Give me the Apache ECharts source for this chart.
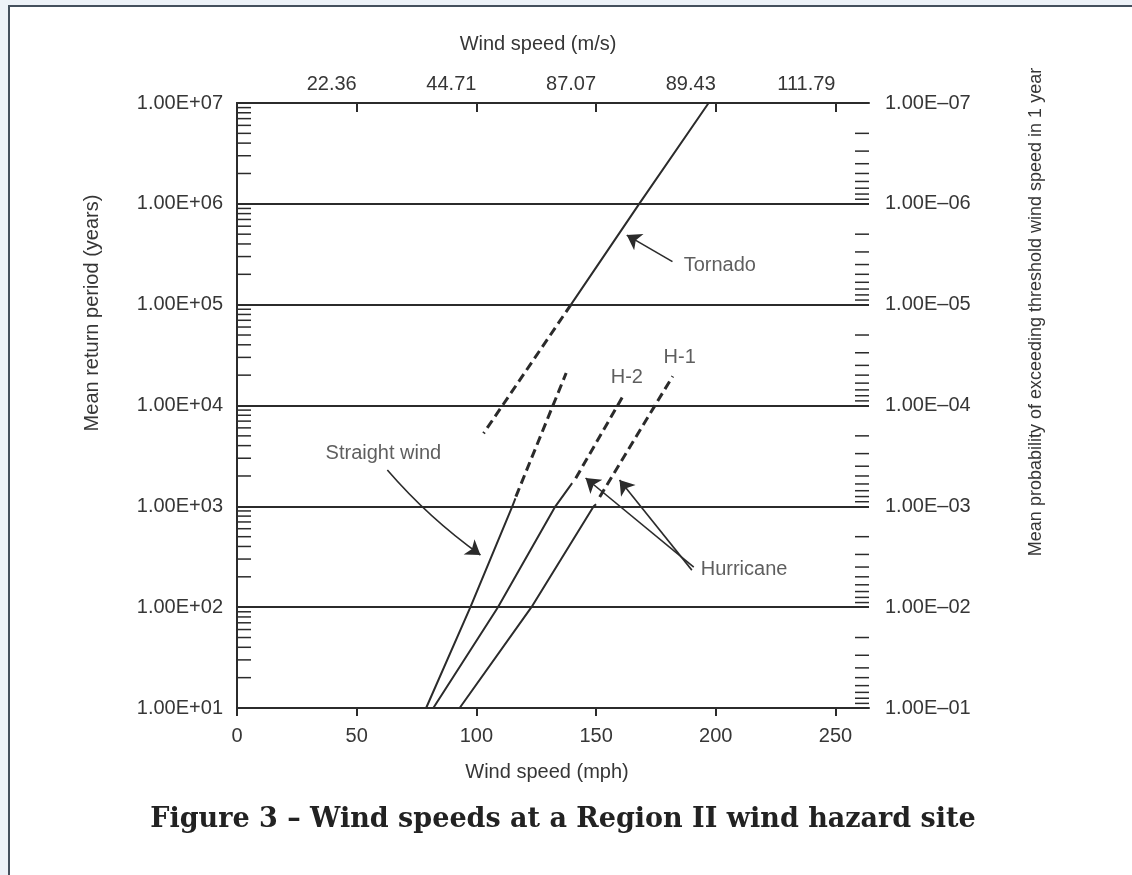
<!DOCTYPE html>
<html>
<head>
<meta charset="utf-8">
<title>Wind speeds at a Region II wind hazard site</title>
<script src="https://cdn.jsdelivr.net/npm/echarts@6/dist/echarts.min.js"></script>
<style>
  html, body { margin: 0; padding: 0; width: 1132px; height: 875px; overflow: hidden; background: #edf2f8; }
  #sheet { position: absolute; left: 8px; top: 5px; right: 0; bottom: 0; background: #ffffff;
           border-left: 2px solid #44505d; border-top: 2px solid #44505d; }
  #chart { position: absolute; left: 0; top: 0; width: 1132px; height: 875px; }
</style>
</head>
<body>
<div id="sheet"></div>
<div id="chart"></div>
<script>
// Hazard curves: mean return period (years) against wind speed (mph)
const tornadoSolid   = [[197, 1e7], [168, 1e6], [139.5, 1e5]];
const tornadoDashed  = [[139.5, 1e5], [103, 5300]];
const straightSolid  = [[79, 10], [97.5, 100], [115, 1000], [116.3, 1200]];
const straightDashed = [[116.5, 1250], [137.5, 21000]];
const h2Solid        = [[82, 10], [109, 100], [133, 1000], [140, 1700]];
const h2Dashed       = [[141.5, 1900], [161.5, 12700]];
const h1Solid        = [[93, 10], [123, 100], [149, 1000], [150, 1050]];
const h1Dashed       = [[151.5, 1240], [182, 19500]];

// Tick labels
const mphLabels  = ['0', '50', '100', '150', '200', '250'];
const msLabels   = ['22.36', '44.71', '87.07', '89.43', '111.79'];
const periodLabels = ['1.00E+01', '1.00E+02', '1.00E+03', '1.00E+04', '1.00E+05', '1.00E+06', '1.00E+07'];
const probLabels   = ['1.00E\u201301', '1.00E\u201302', '1.00E\u201303', '1.00E\u201304', '1.00E\u201305', '1.00E\u201306', '1.00E\u201307'];

// Minor log ticks: return period on the left, probability (1/period) on the right
const decades = [10, 100, 1000, 1e4, 1e5, 1e6];
const tickMultipliers = [2, 3, 4, 5, 6, 7, 8, 9];

// Annotation text anchors (left edge of each label) and arrows [tail, head]
const noteNames  = ['Tornado', 'Straight wind', 'H-2', 'H-1', 'Hurricane'];
const notePoints = [[186.6, 2.47e5], [37, 3380], [156.1, 18750], [178.2, 29600], [193.7, 234]];
const tornadoArrow   = [[181.9, 2.67e5], [162.8, 4.9e5]];
const straightArrow  = [[62.8, 2290], [101.7, 329]];
const hurricaneArrowA = [[190.8, 250], [145.6, 1910]];
const hurricaneArrowB = [[190, 233], [159.8, 1825]];

const MPH_MAX = 264;
const MS_PER_MPH = 0.44704;
const MS_STEP = 50 * MS_PER_MPH;

const INK = '#2b2b2b';
const TEXT = '#363636';
const FONT = 'Liberation Sans';

const leftMinor  = decades.flatMap(d => tickMultipliers.map(m => m * d));
const rightMinor = decades.flatMap(d => tickMultipliers.map(m => d * 10 / m));

function decadeIndex(v) { return Math.round(Math.log10(v)) - 1; }

function tickSeries(values, atRight) {
  return {
    type: 'custom', coordinateSystem: 'cartesian2d', xAxisIndex: 0, yAxisIndex: 0,
    silent: true, clip: false, z: 3,
    data: values.map(v => [atRight ? MPH_MAX : 0, v]),
    encode: { x: 0, y: 1 },
    renderItem: (params, api) => {
      const p = api.coord([api.value(0), api.value(1)]);
      const dx = atRight ? -14 : 14;
      return { type: 'line', shape: { x1: p[0], y1: p[1], x2: p[0] + dx, y2: p[1] },
               style: { stroke: INK, lineWidth: 1.5 } };
    }
  };
}

function curve(data, dashed) {
  return {
    type: 'line', data: data, xAxisIndex: 0, yAxisIndex: 0,
    showSymbol: false, symbol: 'none', silent: true, z: 4,
    lineStyle: dashed ? { color: INK, width: 3, type: [9, 5] } : { color: INK, width: 2 }
  };
}

const axisText = { fontFamily: FONT, fontSize: 20, color: TEXT };

const chart = echarts.init(document.getElementById('chart'), null, { renderer: 'canvas' });

chart.setOption({
  animation: false,
  backgroundColor: 'transparent',
  grid: { left: 237, top: 103, width: 632, height: 605, containLabel: false, outerBoundsMode: 'none' },
  xAxis: [
    {
      type: 'value', position: 'bottom', min: 0, max: MPH_MAX, interval: 50,
      axisLine: { show: true, lineStyle: { color: INK, width: 2 } },
      axisTick: { show: true, inside: false, length: 8, lineStyle: { color: INK, width: 2 } },
      axisLabel: Object.assign({ margin: 18, showMaxLabel: false,
        formatter: v => (v % 50 === 0 ? mphLabels[v / 50] : '') }, axisText),
      splitLine: { show: false }
    },
    {
      type: 'value', position: 'top', min: 0, max: MPH_MAX * MS_PER_MPH, interval: MS_STEP,
      axisLine: { show: true, lineStyle: { color: INK, width: 2 } },
      axisTick: { show: true, inside: true, length: 9, lineStyle: { color: INK, width: 2 } },
      axisLabel: Object.assign({ margin: 9, align: 'right', showMinLabel: false, showMaxLabel: false,
        formatter: v => {
          const k = Math.round(v / MS_STEP);
          return (k >= 1 && Math.abs(v - k * MS_STEP) < 1e-6) ? msLabels[k - 1] : '';
        } }, axisText),
      splitLine: { show: false }
    }
  ],
  yAxis: [
    {
      type: 'log', logBase: 10, min: 10, max: 1e7, position: 'left',
      axisLine: { show: true, lineStyle: { color: INK, width: 2 } },
      axisTick: { show: false },
      axisLabel: Object.assign({ margin: 14, formatter: v => periodLabels[decadeIndex(v)] }, axisText),
      splitLine: { show: true, lineStyle: { color: INK, width: 2 } }
    },
    {
      type: 'log', logBase: 10, min: 10, max: 1e7, position: 'right',
      axisLine: { show: true, lineStyle: { color: INK, width: 2 } },
      axisTick: { show: false },
      axisLabel: Object.assign({ margin: 16, formatter: v => probLabels[decadeIndex(v)] }, axisText),
      splitLine: { show: false }
    }
  ],
  series: [
    tickSeries(leftMinor, false),
    tickSeries(rightMinor, true),
    curve(tornadoSolid, false),
    curve(tornadoDashed, true),
    curve(straightSolid, false),
    curve(straightDashed, true),
    curve(h2Solid, false),
    curve(h2Dashed, true),
    curve(h1Solid, false),
    curve(h1Dashed, true),
    {
      type: 'lines', coordinateSystem: 'cartesian2d', xAxisIndex: 0, yAxisIndex: 0,
      silent: true, z: 5,
      symbol: ['none', 'arrow'], symbolSize: [9, 14],
      lineStyle: { color: INK, width: 1.6, opacity: 1 },
      data: [
        { coords: tornadoArrow },
        { coords: straightArrow, lineStyle: { curveness: -0.06 } },
        { coords: hurricaneArrowA },
        { coords: hurricaneArrowB }
      ]
    },
    {
      type: 'scatter', xAxisIndex: 0, yAxisIndex: 0, symbolSize: 0, silent: true, z: 6,
      data: notePoints.map((p, i) => ({ value: p, name: noteNames[i] })),
      label: { show: true, position: 'right', distance: 0, formatter: '{b}',
               fontFamily: FONT, fontSize: 20, color: TEXT }
    }
  ],
  graphic: [
    { type: 'text', x: 538, y: 44, silent: true,
      style: { text: 'Wind speed (m/s)', x: 0, y: 0, align: 'center', verticalAlign: 'middle',
               textAlign: 'center', textVerticalAlign: 'middle',
               font: '20px "Liberation Sans"', fill: TEXT } },
    { type: 'text', x: 547, y: 772, silent: true,
      style: { text: 'Wind speed (mph)', x: 0, y: 0, align: 'center', verticalAlign: 'middle',
               textAlign: 'center', textVerticalAlign: 'middle',
               font: '20px "Liberation Sans"', fill: TEXT } },
    { type: 'text', x: 92, y: 313, rotation: Math.PI / 2, silent: true,
      style: { text: 'Mean return period (years)', x: 0, y: 0, align: 'center', verticalAlign: 'middle',
               textAlign: 'center', textVerticalAlign: 'middle',
               font: '20px "Liberation Sans"', fill: TEXT } },
    { type: 'text', x: 1036, y: 312, rotation: Math.PI / 2, silent: true,
      style: { text: 'Mean probability of exceeding threshold wind speed in 1 year', x: 0, y: 0,
               align: 'center', verticalAlign: 'middle', textAlign: 'center', textVerticalAlign: 'middle',
               font: '18px "Liberation Sans"', fill: TEXT } },
    { type: 'text', x: 563, y: 820, silent: true,
      style: { text: 'Figure 3 \u2013 Wind speeds at a Region II wind hazard site', x: 0, y: 0,
               align: 'center', verticalAlign: 'middle', textAlign: 'center', textVerticalAlign: 'middle',
               font: 'bold 27px "DejaVu Serif"', fill: '#222222' } }
  ]
});
</script>
</body>
</html>
